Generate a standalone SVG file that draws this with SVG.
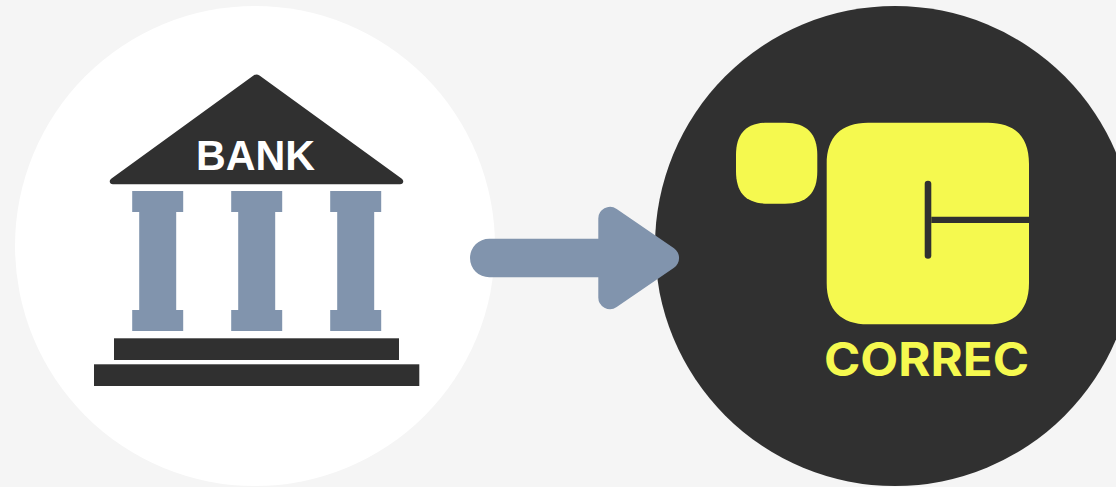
<svg xmlns="http://www.w3.org/2000/svg" width="1116" height="487" viewBox="0 0 1116 487">
<style>
.dark{fill:#303030}
.col{fill:#8194ad}
.yel{fill:#f5f94f}
.bank{font-family:"Liberation Sans",Arial,sans-serif;font-weight:700;font-size:43px;fill:#fff}
.correc{font-family:Inter,"Liberation Sans",sans-serif;font-weight:700;font-size:46px;fill:#f5f94f}
</style>
<defs>
<path id="column" d="M0 0H51V21H44V119H51V140H0V119H7V21H0Z"/>
</defs>
<rect width="1116" height="487" fill="#f5f5f5"/>
<g id="bank">
<circle cx="255" cy="246" r="240" fill="#fff"/>
<path class="dark" d="M253.500 75.500Q256.500 73.300 259.500 75.500L401.500 178.500C404.500 180.700 403.500 184.300 400 184.300H113C109.500 184.300 108.500 180.700 111.500 178.500Z"/>
<text class="bank" x="196" y="169.500" textLength="119" lengthAdjust="spacingAndGlyphs">BANK</text>
<use href="#column" class="col" x="132.200" y="191"/>
<use href="#column" class="col" x="231.200" y="191"/>
<use href="#column" class="col" x="330.200" y="191"/>
<rect class="dark" x="114" y="338.300" width="285" height="21.700"/>
<rect class="dark" x="94" y="364.300" width="325.300" height="21.700"/>
</g>
<g id="correc">
<circle cx="895" cy="246" r="240" fill="#303030"/>
<path class="yel" d="M768 122.700H785C807 122.700 817.300 134 817.300 155V171C817.300 193 807 203.700 785 203.700H768C746 203.700 736 193 736 171V155C736 134 746 122.700 768 122.700Z"/>
<path class="yel" d="M868 122.700H988C1015 122.700 1029 137 1029 164V216.700H931.300V223H1029V283C1029 310 1015 324.300 988 324.300H868C841 324.300 826.700 310 826.700 283V164C826.700 137 841 122.700 868 122.700Z"/>
<rect class="dark" x="924.700" y="180.700" width="6.600" height="78" rx="3.300"/>
<text class="correc" x="824" y="376.300" textLength="205" lengthAdjust="spacingAndGlyphs">CORREC</text>
</g>
<g id="connectors">
<path class="col" d="M489.300 238.700H598.300V219A11.700 11.700 0 0 1 616.700 209L674 248.200A12 12 0 0 1 674 267.800L616.700 307A11.700 11.700 0 0 1 598.300 297V277.300H489.300A19.300 19.300 0 0 1 489.300 238.700Z"/>
</g>
</svg>
